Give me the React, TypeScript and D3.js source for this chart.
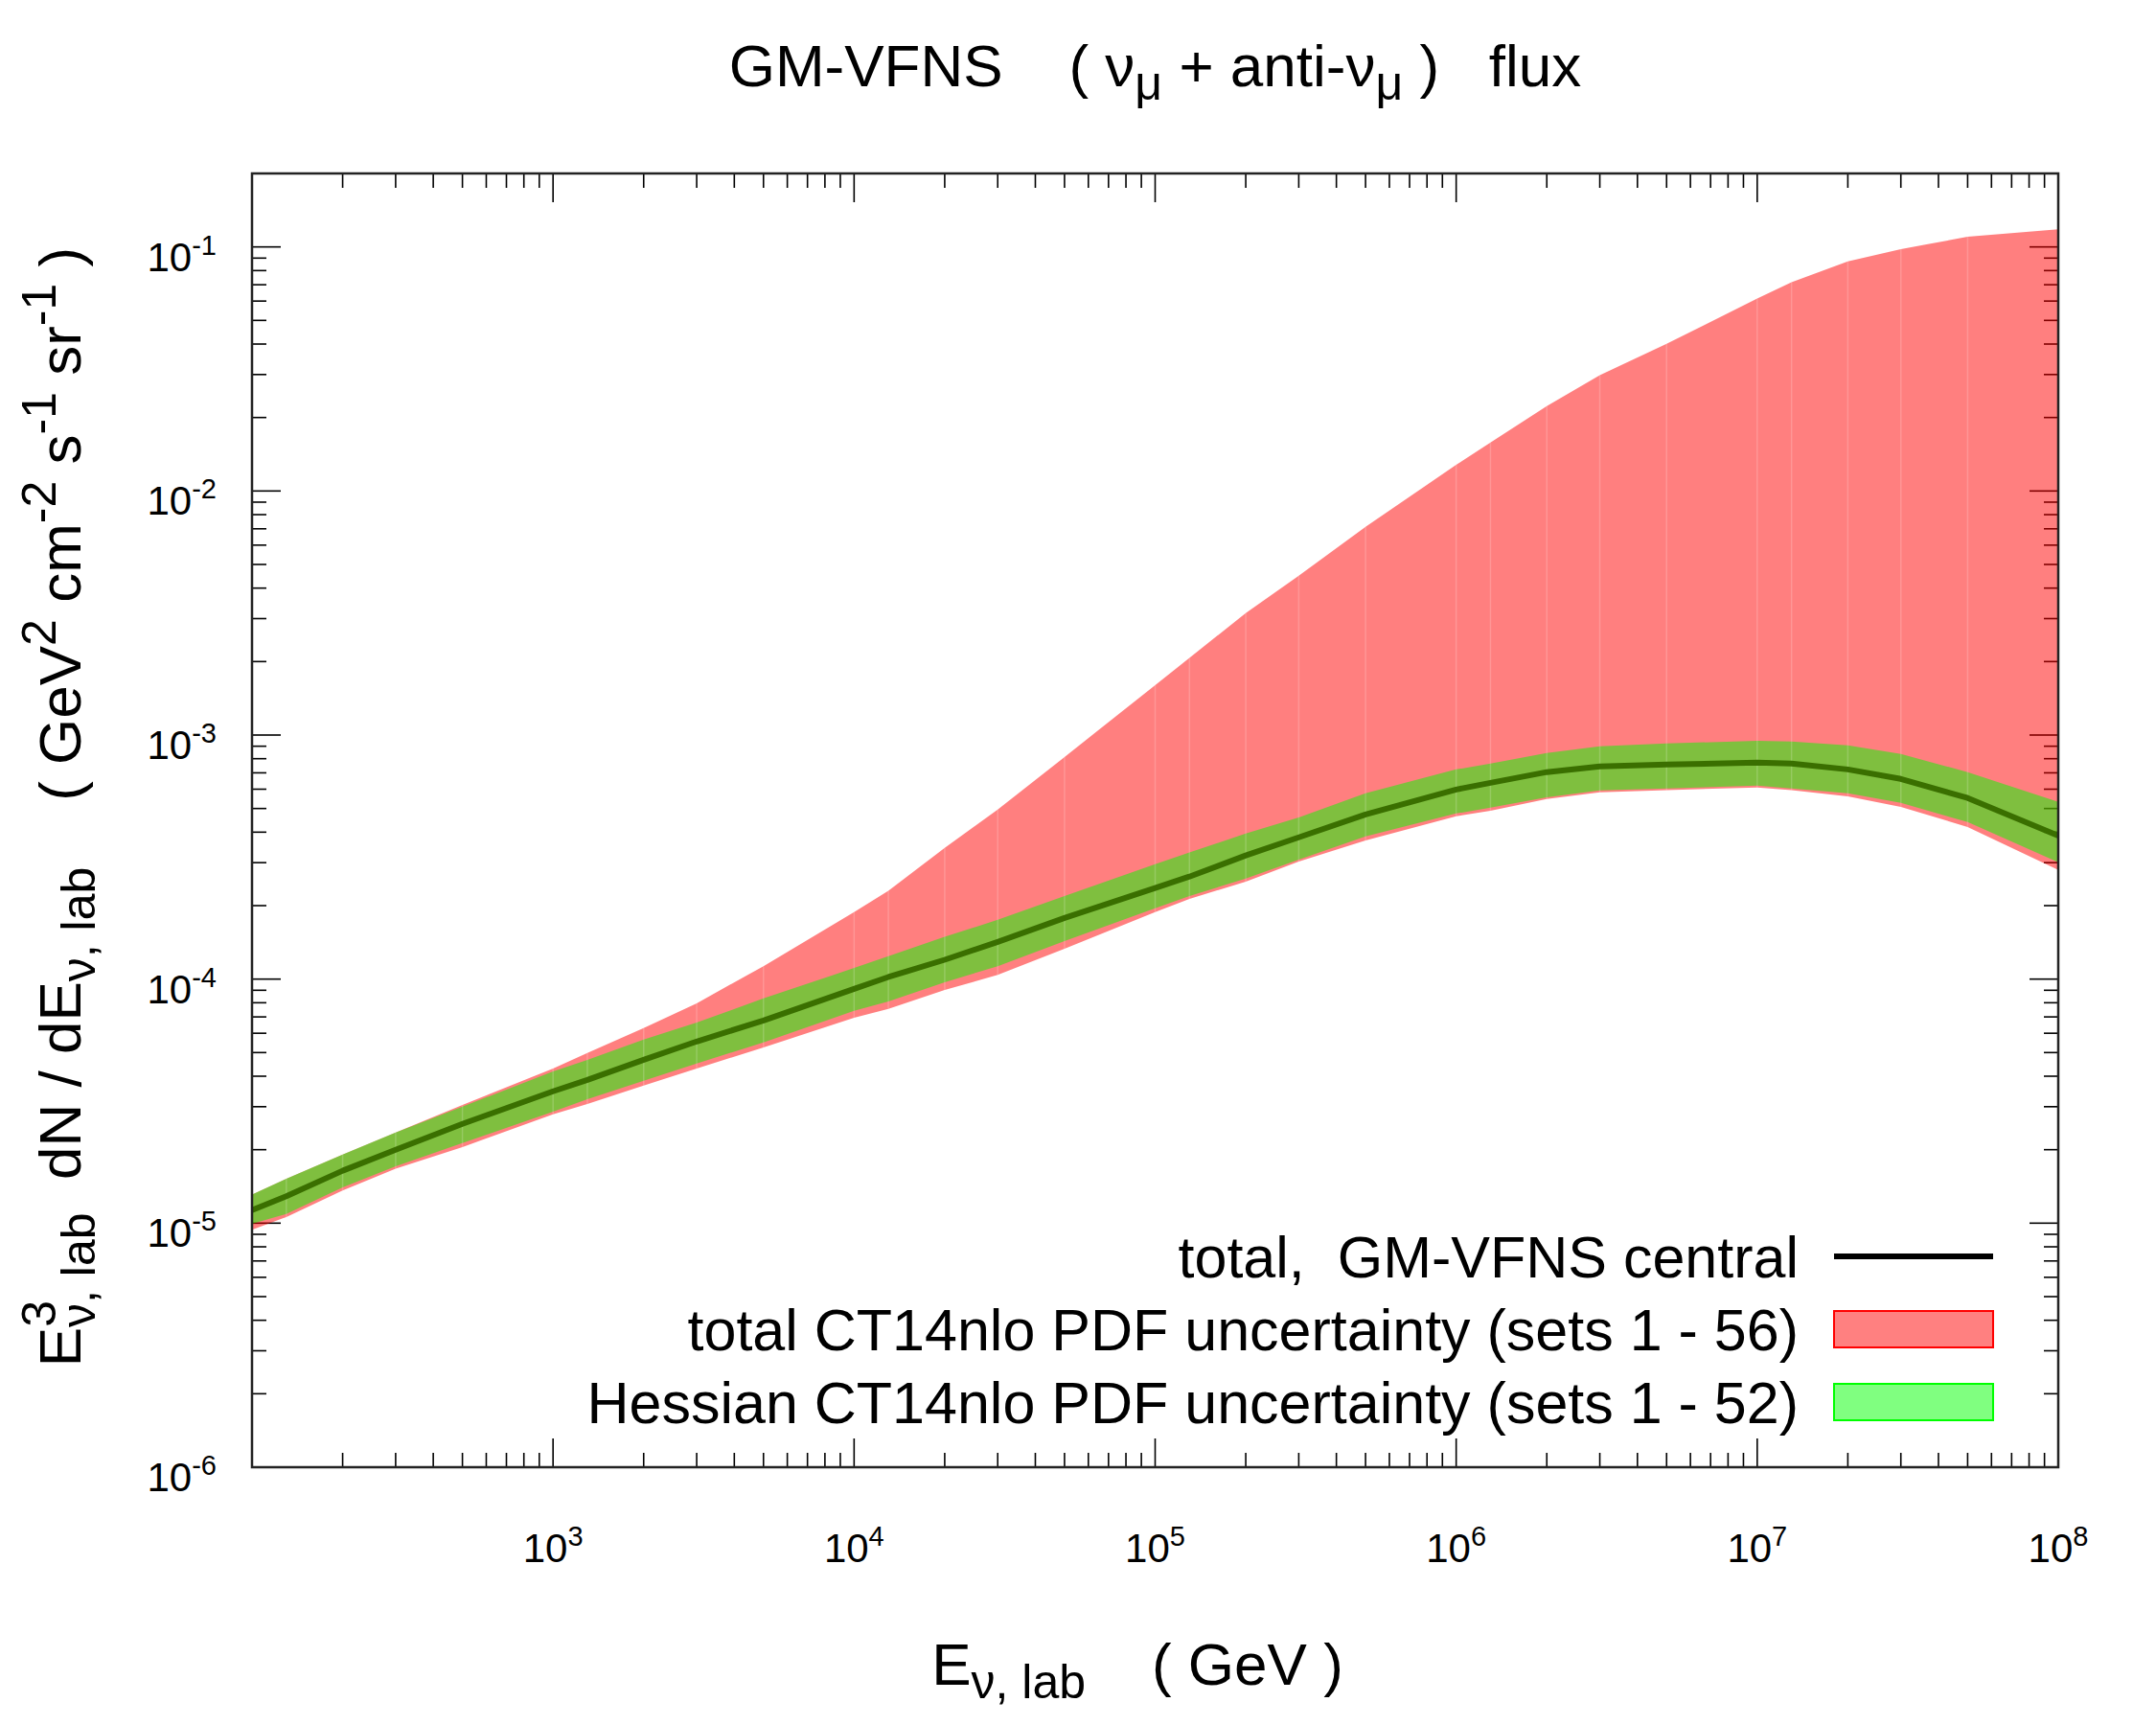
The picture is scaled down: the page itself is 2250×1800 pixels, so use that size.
import * as d3 from "d3";

const W = 2250;
const H = 1800;
const M = { left: 263, right: 2148, top: 181, bottom: 1531 };
const FONT = "'Liberation Sans', Arial, Helvetica, sans-serif";

// Neutrino energy grid (GeV) and E^3 dN/dE values.
const energy = [
  100, 130, 200, 300, 500, 1e3, 1.3e3, 2e3, 3e3, 5e3, 1e4, 1.3e4, 2e4, 3e4, 5e4, 1e5, 1.3e5, 2e5, 3e5,
  5e5, 1e6, 1.3e6, 2e6, 3e6, 5e6, 1e7, 1.3e7, 2e7, 3e7, 5e7, 1e8,
];
const totalHi = [
  1.31e-5, 1.52e-5, 1.91e-5, 2.35e-5, 3.05e-5, 4.3e-5, 4.98e-5, 6.3e-5, 7.96e-5, 1.13e-4, 1.88e-4,
  2.3e-4, 3.45e-4, 4.95e-4, 8.13e-4, 1.6e-3, 2.07e-3, 3.16e-3, 4.5e-3, 7.13e-3, 1.28e-2, 1.58e-2,
  2.23e-2, 2.98e-2, 4.01e-2, 6.14e-2, 7.16e-2, 8.73e-2, 9.8e-2, 0.11, 0.118,
];
const totalLo = [
  9.4e-6, 1.06e-5, 1.36e-5, 1.67e-5, 2.05e-5, 2.79e-5, 3.08e-5, 3.66e-5, 4.3e-5, 5.25e-5, 6.95e-5,
  7.55e-5, 9.03e-5, 1.04e-4, 1.33e-4, 1.88e-4, 2.13e-4, 2.51e-4, 3.03e-4, 3.7e-4, 4.65e-4, 4.9e-4,
  5.47e-4, 5.82e-4, 5.95e-4, 6.09e-4, 5.95e-4, 5.61e-4, 5.08e-4, 4.2e-4, 2.8e-4,
];
const hessHi = [
  1.31e-5, 1.52e-5, 1.91e-5, 2.35e-5, 3.0e-5, 4.19e-5, 4.67e-5, 5.65e-5, 6.64e-5, 8.33e-5, 1.11e-4,
  1.24e-4, 1.49e-4, 1.75e-4, 2.19e-4, 2.96e-4, 3.3e-4, 3.95e-4, 4.6e-4, 5.77e-4, 7.23e-4, 7.64e-4,
  8.44e-4, 8.99e-4, 9.23e-4, 9.48e-4, 9.4e-4, 9.07e-4, 8.36e-4, 7.05e-4, 5.32e-4,
];
const hessLo = [
  9.95e-6, 1.09e-5, 1.4e-5, 1.71e-5, 2.13e-5, 2.86e-5, 3.22e-5, 3.83e-5, 4.51e-5, 5.5e-5, 7.41e-5,
  8.1e-5, 9.7e-5, 1.13e-4, 1.43e-4, 1.95e-4, 2.19e-4, 2.58e-4, 3.09e-4, 3.84e-4, 4.77e-4, 5.04e-4,
  5.56e-4, 5.93e-4, 6.04e-4, 6.21e-4, 6.04e-4, 5.77e-4, 5.27e-4, 4.4e-4, 3.01e-4,
];
const central = [
  1.13e-5, 1.29e-5, 1.64e-5, 2.0e-5, 2.55e-5, 3.47e-5, 3.86e-5, 4.67e-5, 5.55e-5, 6.77e-5, 9.12e-5,
  1.02e-4, 1.2e-4, 1.42e-4, 1.78e-4, 2.36e-4, 2.63e-4, 3.21e-4, 3.81e-4, 4.73e-4, 5.98e-4, 6.37e-4,
  7.05e-4, 7.43e-4, 7.57e-4, 7.71e-4, 7.64e-4, 7.23e-4, 6.61e-4, 5.52e-4, 3.87e-4,
];

const xDecades = [3, 4, 5, 6, 7, 8];
const yDecades = [-6, -5, -4, -3, -2, -1];
const legendLabels = [
  "total,  GM-VFNS central",
  "total CT14nlo PDF uncertainty (sets 1 - 56)",
  "Hessian CT14nlo PDF uncertainty (sets 1 - 52)",
];

export default function App() {
  const x = d3.scaleLog().domain([100, 1e8]).range([M.left, M.right]);
  const y = d3.scaleLog().domain([1e-6, 0.2]).range([M.bottom, M.top]);

  const band = (lo: number[], hi: number[]) =>
    d3
      .area<number>()
      .x((e) => x(e))
      .y0((_, i) => y(lo[i]))
      .y1((_, i) => y(hi[i]))(energy) ?? "";
  const line =
    d3
      .line<number>()
      .x((e) => x(e))
      .y((_, i) => y(central[i]))(energy) ?? "";

  const xMinor: number[] = [];
  for (let k = 2; k < 8; k += 1) for (let m = 2; m < 10; m += 1) xMinor.push(m * 10 ** k);
  const yMinor: number[] = [];
  for (let k = -6; k < 0; k += 1)
    for (let m = 2; m < 10; m += 1) {
      const v = m * 10 ** k;
      if (v < 0.2) yMinor.push(v);
    }

  const major = 30;
  const minor = 15;
  const tick = { stroke: "#000", strokeWidth: 1.6 };

  const legendX0 = 1914;
  const legendX1 = 2080;
  const rowY = [1311, 1387, 1463];
  const big = 62;
  const small = 50;

  return (
    <svg
      width={W}
      height={H}
      viewBox={`0 0 ${W} ${H}`}
      style={{ position: "absolute", left: 0, top: 0, background: "#fff", fontFamily: FONT }}
    >
      <rect x={0} y={0} width={W} height={H} fill="#fff" />

      {/* ticks first: the translucent bands cover them */}
      <g>
        {xDecades.map((d) => (
          <g key={`xm${d}`}>
            <line x1={x(10 ** d)} x2={x(10 ** d)} y1={M.bottom} y2={M.bottom - major} {...tick} />
            <line x1={x(10 ** d)} x2={x(10 ** d)} y1={M.top} y2={M.top + major} {...tick} />
          </g>
        ))}
        {xMinor.map((v) => (
          <g key={`xn${v}`}>
            <line x1={x(v)} x2={x(v)} y1={M.bottom} y2={M.bottom - minor} {...tick} />
            <line x1={x(v)} x2={x(v)} y1={M.top} y2={M.top + minor} {...tick} />
          </g>
        ))}
        {yDecades.map((d) => (
          <g key={`ym${d}`}>
            <line x1={M.left} x2={M.left + major} y1={y(10 ** d)} y2={y(10 ** d)} {...tick} />
            <line x1={M.right} x2={M.right - major} y1={y(10 ** d)} y2={y(10 ** d)} {...tick} />
          </g>
        ))}
        {yMinor.map((v) => (
          <g key={`yn${v}`}>
            <line x1={M.left} x2={M.left + minor} y1={y(v)} y2={y(v)} {...tick} />
            <line x1={M.right} x2={M.right - minor} y1={y(v)} y2={y(v)} {...tick} />
          </g>
        ))}
      </g>

      {/* bands and central curve */}
      <path d={band(totalLo, totalHi)} fill="#ff0000" fillOpacity={0.5} />
      <path d={band(hessLo, hessHi)} fill="#00ff00" fillOpacity={0.5} />
      {energy.map((e, i) => (
        <line
          key={`seam${e}`}
          x1={x(e)}
          x2={x(e)}
          y1={y(totalHi[i])}
          y2={y(totalLo[i])}
          stroke="#fff"
          strokeOpacity={0.18}
          strokeWidth={1.5}
        />
      ))}
      <path d={line} fill="none" stroke="#3a6f00" strokeWidth={6} strokeLinejoin="round" />

      <rect
        x={M.left}
        y={M.top}
        width={M.right - M.left}
        height={M.bottom - M.top}
        fill="none"
        stroke="#222"
        strokeWidth={2.5}
      />

      {/* tick labels */}
      {xDecades.map((d) => (
        <text key={`xl${d}`} x={x(10 ** d)} y={1630} textAnchor="middle" fontSize={42}>
          10
          <tspan fontSize={29} dy={-17}>
            {d}
          </tspan>
        </text>
      ))}
      {yDecades.map((d) => (
        <text key={`yl${d}`} x={226} y={y(10 ** d) + 25} textAnchor="end" fontSize={42}>
          10
          <tspan fontSize={29} dy={-17}>
            {d}
          </tspan>
        </text>
      ))}

      {/* title */}
      <text x={(M.left + M.right) / 2} y={90} textAnchor="middle" fontSize={big} style={{ whiteSpace: "pre" }}>
        {"GM-VFNS    ( ν"}
        <tspan fontSize={small} dy={14}>
          μ
        </tspan>
        <tspan dy={-14}>{" + anti-ν"}</tspan>
        <tspan fontSize={small} dy={14}>
          μ
        </tspan>
        <tspan dy={-14}>{" )   flux"}</tspan>
      </text>

      {/* x label */}
      <text x={1187} y={1758} textAnchor="middle" fontSize={big} style={{ whiteSpace: "pre" }}>
        E
        <tspan fontSize={small} dy={14}>
          {"ν, lab"}
        </tspan>
        <tspan dy={-14}>{"    ( GeV )"}</tspan>
      </text>

      {/* y label */}
      <text
        transform={`translate(84,842) rotate(-90)`}
        textAnchor="middle"
        fontSize={big}
        style={{ whiteSpace: "pre" }}
      >
        E
        <tspan fontSize={small} dy={-26}>
          3
        </tspan>
        <tspan fontSize={small} dx={-28} dy={41}>
          {"ν, lab"}
        </tspan>
        <tspan dy={-15}>{"  dN / dE"}</tspan>
        <tspan fontSize={small} dy={15}>
          {"ν, lab"}
        </tspan>
        <tspan dy={-15}>{"    ( GeV"}</tspan>
        <tspan fontSize={small} dy={-26}>
          2
        </tspan>
        <tspan dy={26}>{" cm"}</tspan>
        <tspan fontSize={small} dy={-26}>
          -2
        </tspan>
        <tspan dy={26}>{" s"}</tspan>
        <tspan fontSize={small} dy={-26}>
          -1
        </tspan>
        <tspan dy={26}>{" sr"}</tspan>
        <tspan fontSize={small} dy={-26}>
          -1
        </tspan>
        <tspan dy={26}>{" )"}</tspan>
      </text>

      {/* legend */}
      {legendLabels.map((label, i) => (
        <text key={label} x={1877} y={rowY[i] + 22} textAnchor="end" fontSize={61} style={{ whiteSpace: "pre" }}>
          {label}
        </text>
      ))}
      <line x1={legendX0} x2={legendX1} y1={rowY[0]} y2={rowY[0]} stroke="#000" strokeWidth={6} />
      <rect
        x={legendX0}
        y={rowY[1] - 19}
        width={legendX1 - legendX0}
        height={38}
        fill="#ff8080"
        stroke="#ff0000"
        strokeWidth={2}
      />
      <rect
        x={legendX0}
        y={rowY[2] - 19}
        width={legendX1 - legendX0}
        height={38}
        fill="#80ff80"
        stroke="#00ff00"
        strokeWidth={2}
      />
    </svg>
  );
}
